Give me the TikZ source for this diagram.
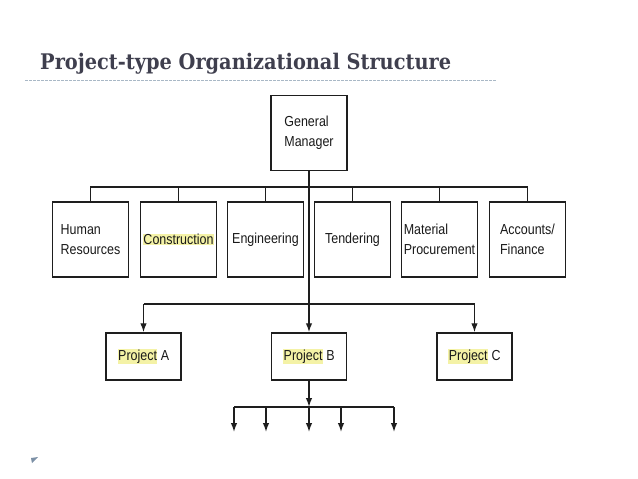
\documentclass[tikz,border=0pt]{standalone}
\usepackage{fontspec}
\setmainfont{Liberation Sans}
\newfontfamily\titlefont{DejaVu Serif}[FakeStretch=0.9]
\usetikzlibrary{arrows.meta}
\definecolor{titlecol}{HTML}{3F3F4E}
\definecolor{dashcol}{HTML}{A9B8C6}
\definecolor{boxline}{HTML}{1E1E1E}
\definecolor{hlcol}{HTML}{F4F2A6}
\definecolor{markcol}{HTML}{7C90A6}
\newcommand{\hlword}[1]{{\setlength{\fboxsep}{0.4pt}\colorbox{hlcol}{#1}}}
\tikzset{
  orgbox/.style={draw=boxline, line width=1.5pt, minimum width=76pt, minimum height=75pt,
    inner sep=2pt, align=left, text=black!90, font=\addfontfeatures{FakeStretch=0.86}\fontsize{14.5}{20}\selectfont},
  projbox/.style={orgbox, minimum width=75pt, minimum height=47pt},
  conn/.style={draw=boxline, line width=1.4pt},
  arr/.style={conn, -{Latex[length=9pt,width=6.5pt]}}
}
\begin{document}
\begin{tikzpicture}[x=1pt,y=-1pt]
\useasboundingbox (0,0) rectangle (638,479);
% title
\node[anchor=base west, inner sep=0, text=titlecol, font=\titlefont\bfseries\fontsize{21.5}{24}\selectfont] (title) at (40,69) {Project-type Organizational Structure};
\draw[dashcol, line width=0.8pt, dash pattern=on 2.5pt off 1.5pt] (25,80) -- (497,80);
% boxes
\node[orgbox] (gm) at (309,133) {General\\Manager};
\node[orgbox] (hr) at (90.5,239.5) {Human\\Resources};
\node[orgbox] (con) at (178.5,239.5) {\hlword{Construction}};
\node[orgbox] (eng) at (265.5,239.5) {Engineering};
\node[orgbox] (ten) at (352.5,239.5) {Tendering};
\node[orgbox] (mat) at (439.5,239.5) {Material\\Procurement};
\node[orgbox] (acc) at (527.5,239.5) {Accounts/\\Finance};
\node[projbox] (pa) at (143.5,356.5) {\hlword{Project} A};
\node[projbox] (pb) at (309,356.5) {\hlword{Project} B};
\node[projbox] (pc) at (474.5,356.5) {\hlword{Project} C};
% coordinates
\coordinate (bar) at (309,187);
\coordinate (pbar) at (309,304);
\coordinate (bbar) at (309,407);
\coordinate (e1) at (234,432);
\coordinate (e2) at (266,432);
\coordinate (e3) at (309,432);
\coordinate (e4) at (341,432);
\coordinate (e5) at (394,432);
% department connectors
\draw[conn] (hr.north) -- (hr.north |- bar) -- (acc.north |- bar) -- (acc.north);
\foreach \n in {con,eng,ten,mat}{\draw[conn] (\n.north) -- (\n.north |- bar);}
% main line
\draw[arr] (gm.south) -- (pb.north);
% project connectors
\draw[conn] (pa.north |- pbar) -- (pc.north |- pbar);
\draw[arr] (pa.north |- pbar) -- (pa.north);
\draw[arr] (pc.north |- pbar) -- (pc.north);
% bottom
\draw[arr] (pb.south) -- (pb.south |- bbar);
\draw[conn] (e1 |- bbar) -- (e5 |- bbar);
\foreach \e in {e1,e2,e3,e4,e5}{\draw[arr] (\e |- bbar) -- (\e);}
% slide marker
\fill[markcol] (31,458) -- (38,457) -- (32,463) -- cycle;
\end{tikzpicture}
\end{document}
